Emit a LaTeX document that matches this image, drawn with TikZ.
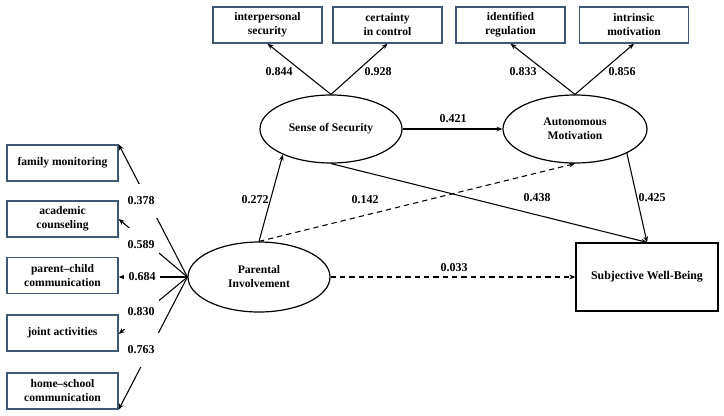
\documentclass[tikz,border=0pt]{standalone}
\usepackage{fontspec}
\setmainfont{Liberation Serif}
\usetikzlibrary{arrows.meta,shapes.geometric}
\definecolor{boxblue}{RGB}{62,88,118}
\tikzset{
  ind/.style={draw=boxblue, line width=1pt, minimum width=109*0.75pt, minimum height=36*0.75pt, inner sep=0pt, align=center, font=\bfseries\fontsize{8.7}{10.5}\selectfont},
  lat/.style={draw, ellipse, line width=0.9pt, inner sep=0pt, align=center, font=\bfseries\fontsize{8.7}{10.5}\selectfont},
  outc/.style={draw, line width=1pt, minimum width=142*0.75pt, minimum height=68*0.75pt, inner sep=0pt, align=center, font=\bfseries\fontsize{8.9}{10.5}\selectfont},
  coef/.style={font=\bfseries\fontsize{9}{10.5}\selectfont, inner sep=1pt},
  gapcoef/.style={coef, fill=white, minimum width=36*0.75pt, minimum height=34*0.75pt},
  arr/.style={line width=0.8pt, -{Stealth[length=4.5pt,width=3.5pt]}},
  darr/.style={arr, dash pattern=on 4pt off 3pt},
}
\begin{document}
\begin{tikzpicture}[x=0.75pt,y=-0.75pt]
\useasboundingbox[fill=white] (0,0) rectangle (724,415);
% indicators top
\node[ind] (ips) at (267.5,25) {interpersonal\\security};
\node[ind] (cic) at (387.5,25) {certainty\\in control};
\node[ind] (idr) at (510.5,25) {identified\\regulation};
\node[ind] (inm) at (634,25) {intrinsic\\motivation};
% indicators left
\node[ind, minimum width=111*0.75pt] (fm) at (62.5,163) {family monitoring};
\node[ind, minimum width=111*0.75pt] (ac) at (62.5,219) {academic\\counseling};
\node[ind, minimum width=111*0.75pt] (pcc) at (62.5,275.5) {parent--child\\communication};
\node[ind, minimum width=111*0.75pt] (ja) at (62.5,333) {joint activities};
\node[ind, minimum width=111*0.75pt] (hsc) at (62.5,391) {home--school\\communication};
% latent
\node[lat, minimum width=142*0.75pt, minimum height=68*0.75pt] (sos) at (331,129) {Sense of Security};
\node[lat, minimum width=144*0.75pt, minimum height=68*0.75pt] (am) at (575,129) {Autonomous\\Motivation};
\node[lat, minimum width=142*0.75pt, minimum height=70*0.75pt] (pi) at (259,277) {Parental\\Involvement};
\node[outc] (swb) at (647,277) {Subjective Well-Being};
% top loadings
\draw[arr] (sos.north) -- (ips.south);
\draw[arr] (sos.north) -- (cic.south);
\draw[arr] (am.north) -- (idr.south);
\draw[arr] (am.north) -- (inm.south);
\node[coef] (l844) at (279,72) {0.844};
\node[coef] (l928) at (378,72) {0.928};
\node[coef] (l833) at (523,72) {0.833};
\node[coef] (l856) at (622,72) {0.856};
% structural paths
\draw[arr] (sos.east) -- (am.west);
\draw[arr] (pi.north) -- (sos.208);
\draw[darr] (pi.north) -- (am.south);
\draw[arr] (sos.south) -- (swb.north);
\draw[arr] (am.-25) -- (swb.north);
\draw[darr] (pi.east) -- (swb.west);
\node[coef] (l421) at (453,119) {0.421};
\node[coef] (l272) at (255,200) {0.272};
\node[coef] (l142) at (365,200) {0.142};
\node[coef] (l438) at (537,198) {0.438};
\node[coef] (l425) at (652,198) {0.425};
\node[coef] (l033) at (454,268) {0.033};
% left loadings
\draw[arr] (pi.west) -- (fm.north east);
\draw[arr] (pi.west) -- (ac.east);
\draw[arr] (pi.west) -- ([yshift=-1.5*0.75pt]pcc.east);
\draw[arr] (pi.west) -- ([yshift=-1*0.75pt]ja.east);
\draw[arr] (pi.west) -- (hsc.south east);
\node[gapcoef] (l378) at (141,201) {0.378};
\node[gapcoef] (l589) at (141,245) {0.589};
\node[gapcoef] (l684) at (142,277) {0.684};
\node[gapcoef] (l830) at (141,312) {0.830};
\node[gapcoef] (l763) at (141,350) {0.763};
\end{tikzpicture}
\end{document}
